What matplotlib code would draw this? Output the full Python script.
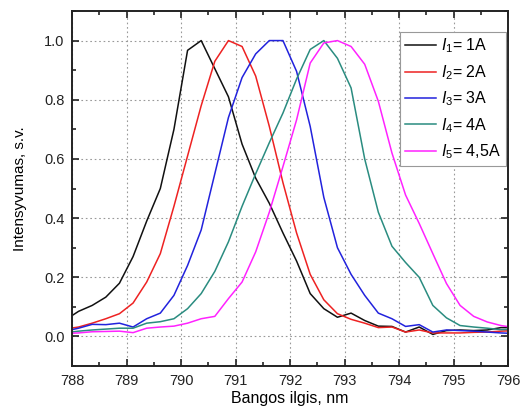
import numpy as np
import matplotlib
matplotlib.use("Agg")
import matplotlib.pyplot as plt
from matplotlib.ticker import MultipleLocator, FormatStrFormatter

plt.rcParams['font.family'] = ['Liberation Sans', 'DejaVu Sans']
plt.rcParams['mathtext.fontset'] = 'custom'
plt.rcParams['mathtext.rm'] = 'Liberation Sans'
plt.rcParams['mathtext.it'] = 'Liberation Sans:italic'

# wavelength grid, nm
wl = [787.87, 788.12, 788.37, 788.62, 788.87, 789.12, 789.37, 789.62, 789.87,
      790.12, 790.37, 790.62, 790.87, 791.12, 791.37, 791.62, 791.87, 792.12,
      792.37, 792.62, 792.87, 793.12, 793.37, 793.62, 793.87, 794.12, 794.37,
      794.62, 794.87, 795.12, 795.37, 795.62, 795.87, 796.12]

i1 = [0.055, 0.085, 0.105, 0.133, 0.18, 0.27, 0.39, 0.50, 0.70,
      0.967, 1.0, 0.905, 0.81, 0.65, 0.535, 0.45, 0.35, 0.255,
      0.145, 0.094, 0.065, 0.079, 0.054, 0.035, 0.034, 0.015, 0.032,
      0.007, 0.02, 0.022, 0.02, 0.022, 0.03, 0.03]
i2 = [0.025, 0.032, 0.045, 0.06, 0.077, 0.113, 0.184, 0.28, 0.44,
      0.61, 0.78, 0.93, 1.0, 0.98, 0.88, 0.71, 0.52, 0.35,
      0.21, 0.124, 0.077, 0.058, 0.045, 0.03, 0.032, 0.015, 0.022,
      0.012, 0.012, 0.012, 0.014, 0.015, 0.018, 0.02]
i3 = [0.018, 0.028, 0.041, 0.04, 0.045, 0.032, 0.06, 0.079, 0.139,
      0.24, 0.36, 0.55, 0.74, 0.875, 0.955, 1.0, 1.0, 0.896,
      0.71, 0.47, 0.30, 0.21, 0.139, 0.079, 0.06, 0.034, 0.04,
      0.015, 0.022, 0.02, 0.018, 0.015, 0.012, 0.01]
i4 = [0.012, 0.018, 0.022, 0.025, 0.028, 0.028, 0.045, 0.05, 0.06,
      0.094, 0.145, 0.22, 0.32, 0.44, 0.55, 0.655, 0.755, 0.87,
      0.97, 1.0, 0.94, 0.84, 0.60, 0.42, 0.305, 0.25, 0.20,
      0.105, 0.063, 0.037, 0.032, 0.028, 0.023, 0.025]
i5 = [0.01, 0.012, 0.016, 0.017, 0.018, 0.013, 0.028, 0.032, 0.035,
      0.045, 0.06, 0.068, 0.128, 0.184, 0.286, 0.42, 0.574, 0.732,
      0.924, 0.992, 1.0, 0.98, 0.92, 0.795, 0.62, 0.478, 0.382,
      0.28, 0.179, 0.105, 0.068, 0.049, 0.037, 0.03]

series = [i1, i2, i3, i4, i5]
labels = [r'$\mathit{I_1}$= 1A', r'$\mathit{I_2}$= 2A', r'$\mathit{I_3}$= 3A',
          r'$\mathit{I_4}$= 4A', r'$\mathit{I_5}$= 4,5A']
colors = ['#111111', '#ee2222', '#2222dd', '#2a8c80', '#ff22ff']

fig = plt.figure(figsize=(5.2, 4.16), dpi=100)
ax = fig.add_axes([0.1385, 0.12, 0.8385, 0.8536])

for y, lab, c in zip(series, labels, colors):
    ax.plot(wl, y, color=c, lw=1.1, label=lab)

ax.set_xlim(788, 796)
ax.set_ylim(-0.1, 1.1)
ax.xaxis.set_major_locator(MultipleLocator(1))
ax.xaxis.set_minor_locator(MultipleLocator(0.5))
ax.set_yticks([0.0, 0.2, 0.4, 0.6, 0.8, 1.0])
ax.yaxis.set_minor_locator(MultipleLocator(0.1))
ax.yaxis.set_major_formatter(FormatStrFormatter('%.1f'))

ax.tick_params(which='both', direction='in', top=True, right=True,
               labelsize=10.5, colors='#222222', width=1.2, pad=5.5)
ax.tick_params(which='major', length=5)
ax.tick_params(which='minor', length=3)
for s in ax.spines.values():
    s.set_linewidth(1.4)
    s.set_color('#222222')

ax.grid(True, which='major', linestyle=(0, (1.5, 2.5)), color='#999999', lw=0.8)

ax.set_xlabel('Bangos ilgis, nm', fontsize=11.5, labelpad=2.5)
ax.set_ylabel('Intensyvumas, s.v.', fontsize=11, labelpad=12)

leg = ax.legend(loc='upper right', bbox_to_anchor=(0.995, 0.941),
                fontsize=11.5, frameon=True, fancybox=False,
                framealpha=1, edgecolor='#999999', handlelength=2.0,
                borderaxespad=0, labelspacing=0.48, handletextpad=0.3,
                borderpad=0.3)
leg.get_frame().set_linewidth(0.8)

fig.savefig('out.png', dpi=100)
